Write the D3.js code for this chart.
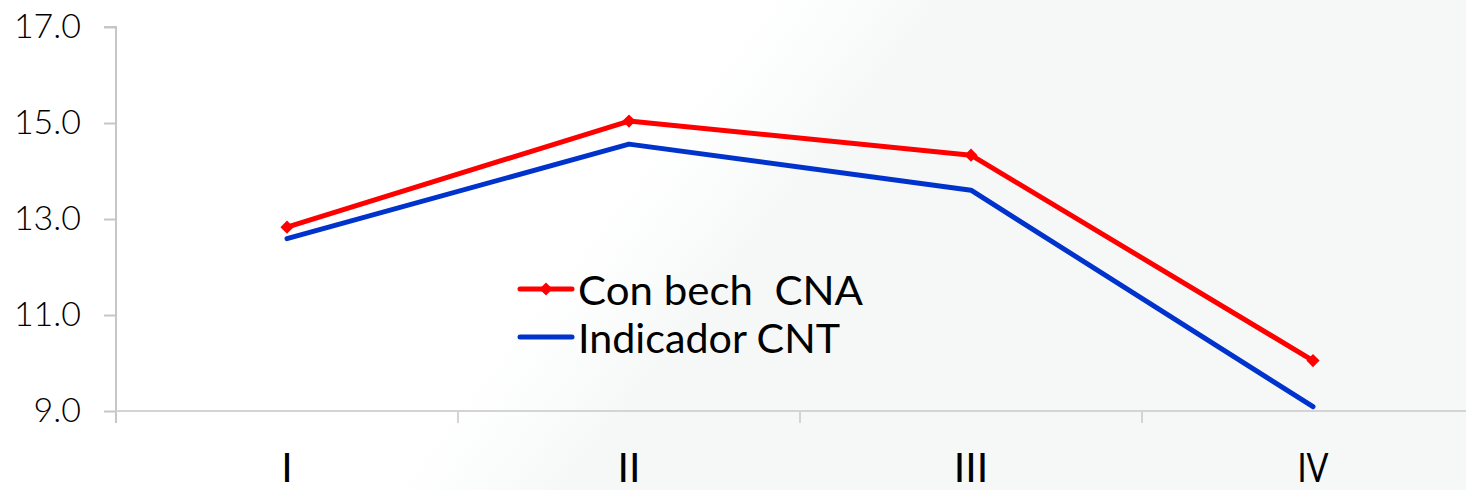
<!DOCTYPE html>
<html>
<head>
<meta charset="utf-8">
<script src="https://cdn.jsdelivr.net/npm/d3@7"></script>
<style>
  body { margin: 0; background: #fff; }
  svg { display: block; }
  text { font-family: Lato, "Open Sans", sans-serif; fill: #000; }
</style>
</head>
<body>
<div class="chart"></div>
<script>
var w = 1466,
    h = 490;

// data
var quarters = ["I", "II", "III", "IV"];
var conBech = [12.83, 15.04, 14.33, 10.05];
var indicadorCNT = [12.59, 14.56, 13.60, 9.09];
var yTicks = [9, 11, 13, 15, 17];
var seriesNames = ["Con bech  CNA", "Indicador CNT"];

var vis = d3.select(".chart").append("svg")
    .attr("width", w)
    .attr("height", h);

// faint diagonal background shading
var defs = vis.append("defs");
var grad = defs.append("linearGradient")
    .attr("id", "bg")
    .attr("gradientUnits", "userSpaceOnUse")
    .attr("x1", 470).attr("y1", 390)
    .attr("x2", 580).attr("y2", 475);
grad.append("stop").attr("offset", 0).attr("stop-color", "#ffffff");
grad.append("stop").attr("offset", 1).attr("stop-color", "#f6f8f8");
vis.append("rect").attr("width", w).attr("height", h).attr("fill", "url(#bg)");

var x = d3.scaleBand().domain(quarters).range([116, 1484]).padding(0);
var y = d3.scaleLinear().domain([9, 17]).range([411, 27]);

// y axis
var yAxis = vis.append("g")
    .attr("transform", "translate(116,0)")
    .call(d3.axisLeft(y).tickValues(yTicks).tickSize(12).tickPadding(23)
      .tickFormat(d3.format(".1f")));
yAxis.select(".domain").attr("stroke", "#c6c6c6").attr("stroke-width", 2)
    .attr("d", "M-12,27H0V423");
yAxis.selectAll(".tick line").attr("stroke", "#c6c6c6").attr("stroke-width", 2);
yAxis.selectAll(".tick text")
    .style("font-size", "34px")
    .style("font-weight", 300)
    .attr("fill", "#000");

// x axis
var xAxis = vis.append("g")
    .attr("transform", "translate(0,411)");
xAxis.append("line")
    .attr("x1", 116).attr("x2", w)
    .attr("stroke", "#d4d4d4").attr("stroke-width", 2);
xAxis.selectAll(".xtick").data(quarters.slice(1)).enter().append("line")
    .attr("x1", function(d) { return x(d); })
    .attr("x2", function(d) { return x(d); })
    .attr("y1", 0).attr("y2", 12)
    .attr("stroke", "#d4d4d4").attr("stroke-width", 2);
var xl = xAxis.selectAll(".xlabel").data(quarters).enter().append("text")
    .attr("x", function(d) { return x(d) + x.bandwidth() / 2; })
    .attr("y", 71)
    .attr("text-anchor", "middle")
    .style("font-size", "41px")
    .text(function(d) { return d; });
xl.filter(function(d) { return d == "IV"; })
    .attr("textLength", 31)
    .attr("lengthAdjust", "spacingAndGlyphs");

var line = d3.line()
    .x(function(d, i) { return x(quarters[i]) + x.bandwidth() / 2; })
    .y(function(d) { return y(d); });

vis.append("path").datum(indicadorCNT)
    .attr("d", line)
    .attr("fill", "none")
    .attr("stroke", "#0033cc")
    .attr("stroke-width", 5)
    .attr("stroke-linecap", "round")
    .attr("stroke-linejoin", "round");

vis.append("path").datum(conBech)
    .attr("d", line)
    .attr("fill", "none")
    .attr("stroke", "#ff0000")
    .attr("stroke-width", 5)
    .attr("stroke-linejoin", "round");

var diamond = d3.symbol().type(d3.symbolDiamond2).size(110);
vis.selectAll(".mark").data(conBech).enter().append("path")
    .attr("transform", function(d, i) {
      return "translate(" + (x(quarters[i]) + x.bandwidth() / 2) + "," + y(d) + ")";
    })
    .attr("d", diamond)
    .attr("fill", "#ff0000");

// legend
var legend = vis.append("g");
var legColors = ["#ff0000", "#0033cc"];
var legY = [289, 337];
legend.selectAll("line").data(seriesNames).enter().append("line")
    .attr("x1", 520).attr("x2", 572)
    .attr("y1", function(d, i) { return legY[i]; })
    .attr("y2", function(d, i) { return legY[i]; })
    .attr("stroke", function(d, i) { return legColors[i]; })
    .attr("stroke-width", 5)
    .attr("stroke-linecap", "round");
legend.append("path")
    .attr("transform", "translate(546," + legY[0] + ")")
    .attr("d", diamond)
    .attr("fill", "#ff0000");
legend.selectAll("text").data(seriesNames).enter().append("text")
    .attr("x", 578)
    .attr("y", function(d, i) { return legY[i] + 16; })
    .style("font-size", "41px")
    .style("white-space", "pre")
    .attr("textLength", function(d, i) { return i == 0 ? 285 : 262; })
    .attr("lengthAdjust", "spacingAndGlyphs")
    .text(function(d) { return d; });
</script>
</body>
</html>
